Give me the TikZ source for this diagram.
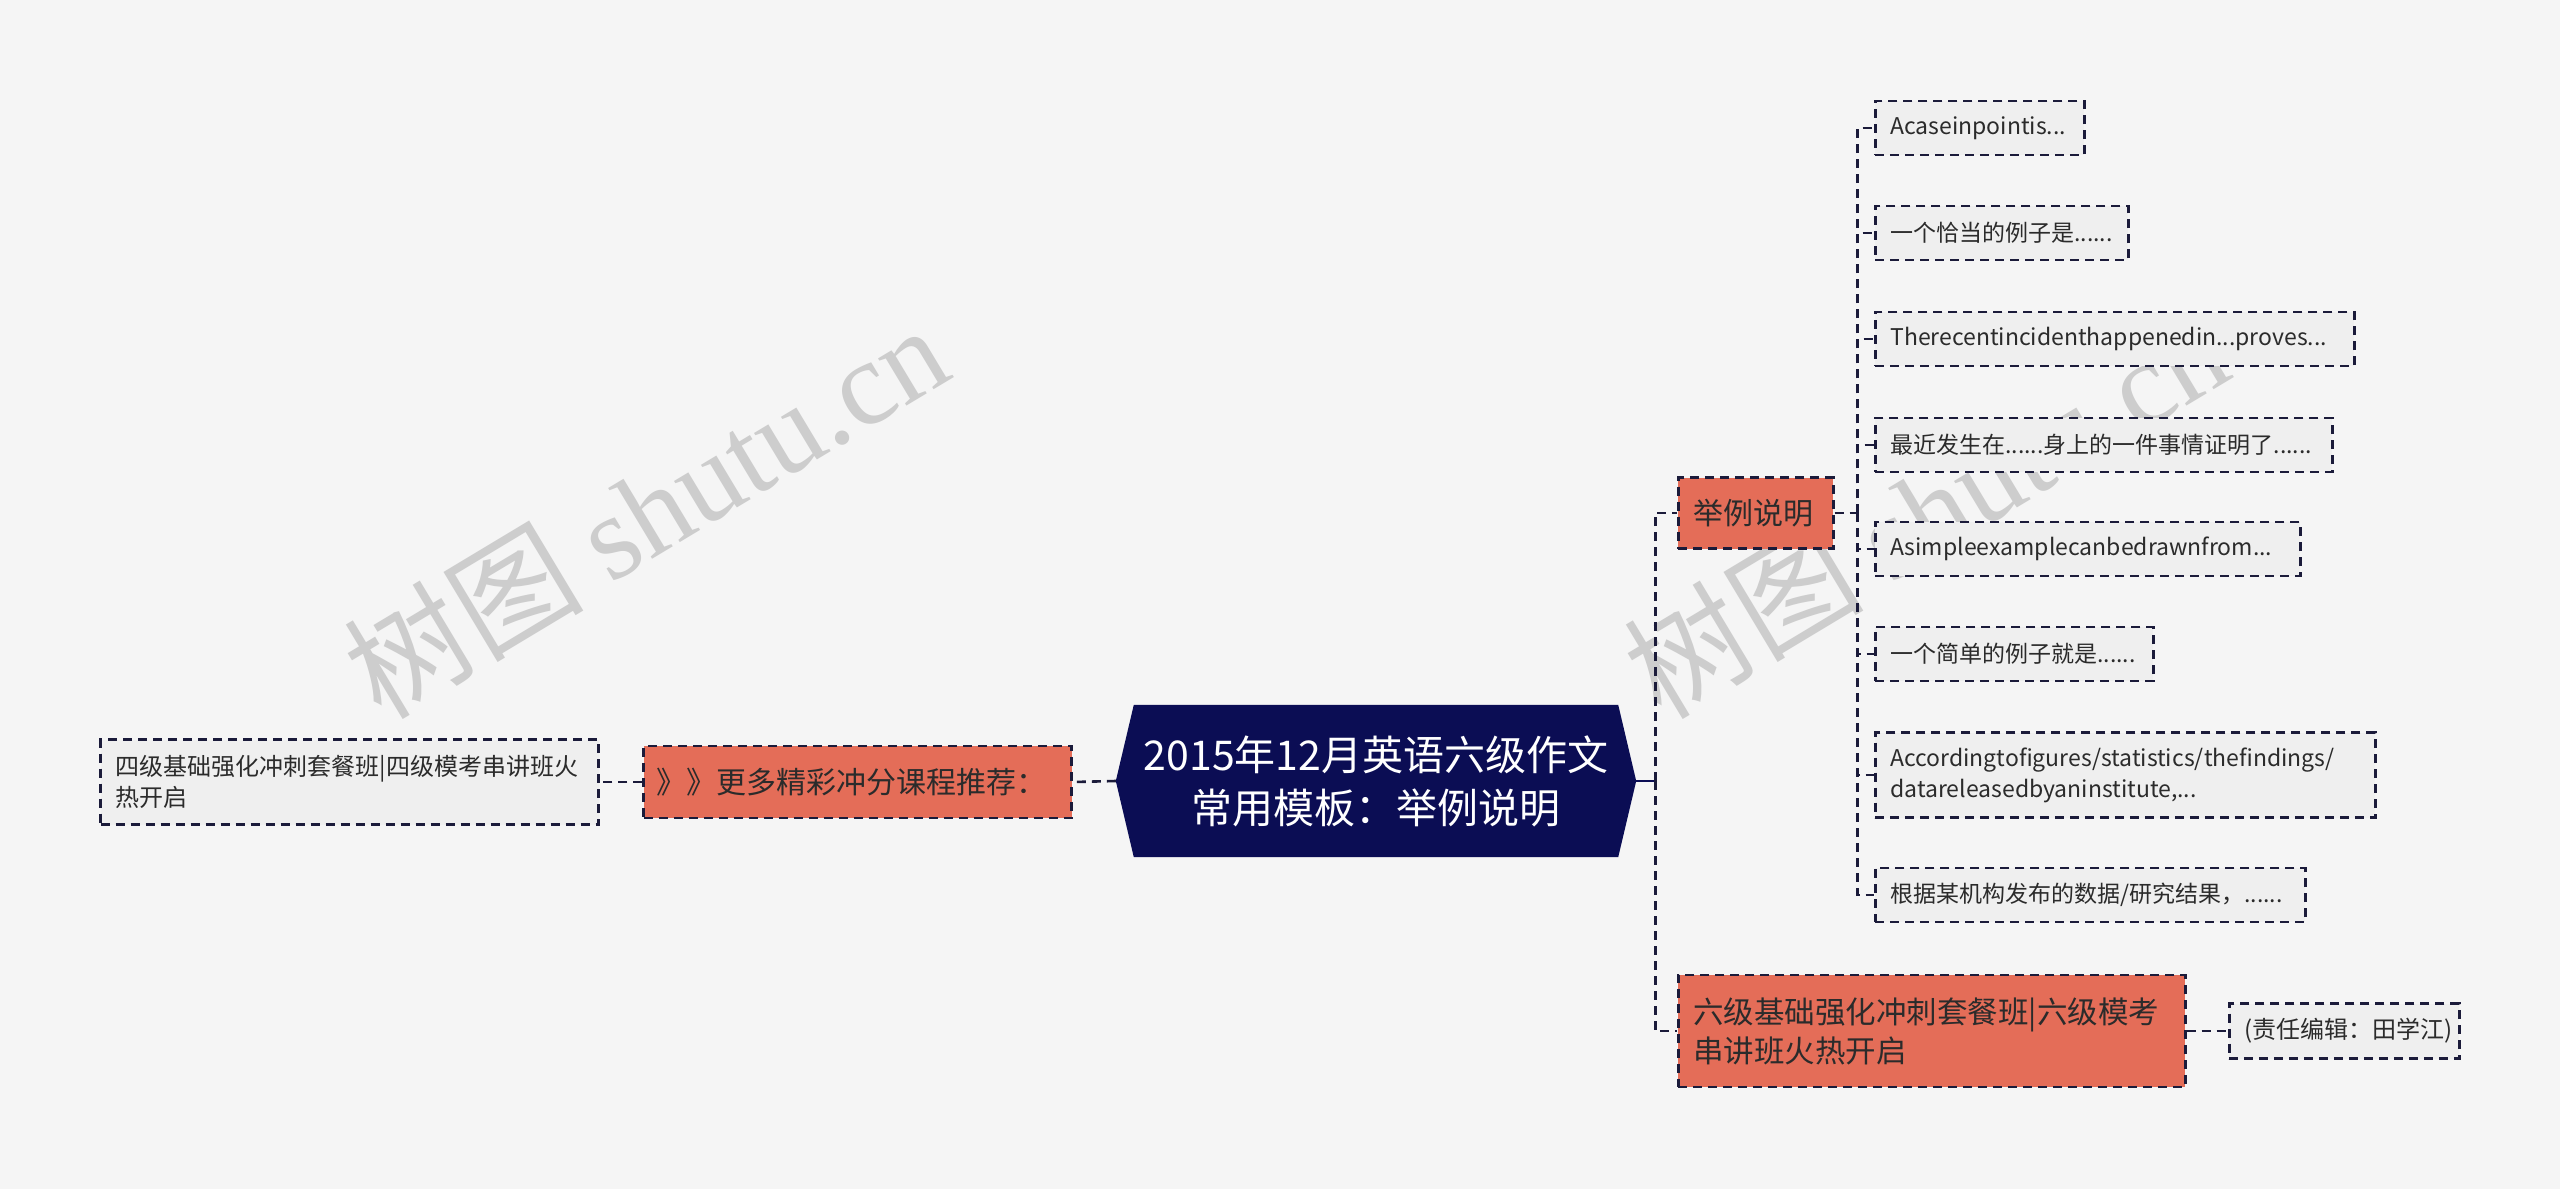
\documentclass[tikz,border=0pt]{standalone}
\usepackage{fontspec}
\setmainfont{Noto Sans CJK SC}
\newfontfamily\wmlatin{Liberation Serif}
\usetikzlibrary{calc}
\pgfdeclarelayer{background}
\pgfdeclarelayer{wmlayer}
\pgfsetlayers{background,wmlayer,main}
\definecolor{bgc}{HTML}{F5F5F5}
\definecolor{navy}{HTML}{0B0D54}
\definecolor{salmon}{HTML}{E46D58}
\definecolor{leaffill}{HTML}{EFEFEF}
\definecolor{edgec}{HTML}{1B1B3A}
\definecolor{txt}{HTML}{2B2B2B}
\definecolor{wmc}{HTML}{CDCDCD}
\begin{document}
\begin{tikzpicture}[x=1pt,y=-1pt,
  dashline/.style={draw=edgec,line width=2.6pt,dash pattern=on 9pt off 6pt},
  leaf/.style={dashline, fill=leaffill, anchor=west, inner xsep=15pt, inner ysep=0pt,
    minimum height=54pt, align=left, text=txt, font=\fontsize{23}{31}\selectfont},
  branch/.style={dashline, fill=salmon, inner xsep=15pt, inner ysep=0pt,
    align=left, text=txt, font=\fontsize{30}{39}\selectfont},
  link/.style={dashline},
  wmark/.style={text=wmc, rotate=31, font=\fontsize{120}{120}\selectfont}
]
\useasboundingbox (0,0) rectangle (2560,1189);

% root
\node[minimum width=520pt, minimum height=152pt, inner sep=0pt, text=white, align=center,
  font=\fontsize{41}{53}\selectfont] (root) at (1376,781) {2015年12月英语六级作文\\常用模板：举例说明};

% left side
\node[branch, anchor=east, inner xsep=13pt, text width=402pt, minimum height=72pt, font=\fontsize{30}{38}\selectfont]
  (left) at (1073,782) {》》更多精彩冲分课程推荐：};
\node[leaf, anchor=east, text width=468pt, minimum height=85pt, font=\fontsize{24}{31}\selectfont]
  (far) at (600,782) {四级基础强化冲刺套餐班|四级模考串讲班火\\热开启};

% right side
\node[branch, anchor=west, text width=125pt, minimum height=71pt] (jl) at (1677,513) {举例说明};
\node[branch, anchor=west, text width=477pt, minimum height=112pt, font=\fontsize{30.5}{39}\selectfont]
  (six) at (1677,1031) {六级基础强化冲刺套餐班|六级模考\\串讲班火热开启};
\node[leaf, text width=200pt, minimum height=55pt, font=\fontsize{24}{31}\selectfont]
  (zr) at (2228,1031) {(责任编辑：田学江)};

% leaves
\node[leaf, text width=179pt] (a) at (1874,128) {Acaseinpointis...};
\node[leaf, text width=223pt] (b) at (1874,233) {一个恰当的例子是......};
\node[leaf, text width=449pt] (c) at (1874,339) {Therecentincidenthappenedin...proves...};
\node[leaf, text width=427pt] (d) at (1874,445) {最近发生在......身上的一件事情证明了......};
\node[leaf, text width=395pt] (e) at (1874,549) {Asimpleexamplecanbedrawnfrom...};
\node[leaf, text width=248pt] (f) at (1874,654) {一个简单的例子就是......};
\node[leaf, text width=470pt, minimum height=85pt] (g) at (1874,775) {Accordingtofigures/statistics/thefindings/\\datareleasedbyaninstitute,...};
\node[leaf, text width=400pt] (h) at (1874,895) {根据某机构发布的数据/研究结果，......};

\begin{pgfonlayer}{background}
  \fill[bgc] (0,0) rectangle (2560,1189);
\end{pgfonlayer}

% watermarks (behind boxes and connectors)
\begin{pgfonlayer}{wmlayer}
  \node[wmark] (wm1) at (645,510) {树图 {\wmlatin shutu.cn}};
  \node[wmark] (wm2) at (1925,510) {树图 {\wmlatin shutu.cn}};
  \fill[navy] ($(root.north west)+(18,0)$) -- ($(root.north east)+(-18,0)$) -- (root.east)
    -- ($(root.south east)+(-18,0)$) -- ($(root.south west)+(18,0)$) -- (root.west) -- cycle;
  % connectors
  \coordinate (rt) at ($(root.east)+(19,0)$);
  \draw[navy, line width=2.6pt] (root.east) -- (rt);
  \draw[link] (rt) |- (jl.west);
  \draw[link] (rt) |- (six.west);
  \coordinate (jt) at ($(jl.east)+(23,0)$);
  \draw[link] (jl.east) -- (jt);
  \foreach \n in {a,b,c,d,e,f,g,h} \draw[link] (jt) |- (\n.west);
  \draw[link] (six.east) -- (zr.west);
  \draw[link] (root.west) -- (left.east);
  \draw[link] (left.west) -- (far.east);
\end{pgfonlayer}
\end{tikzpicture}
\end{document}
